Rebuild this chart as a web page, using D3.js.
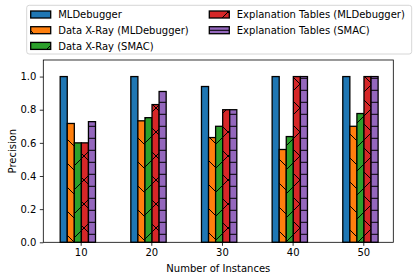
<!DOCTYPE html>
<html>
<head>
<meta charset="utf-8">
<script src="https://cdnjs.cloudflare.com/ajax/libs/d3/7.8.5/d3.min.js"></script>
<style>
  body { margin: 0; background: #fff; }
  svg text { font-family: "DejaVu Sans", sans-serif; font-size: 10px; fill: #000; }
</style>
</head>
<body>
<div class="chart"></div>
<script>
// data
var instances = [10, 20, 30, 40, 50];
var yTicks = [0.0, 0.2, 0.4, 0.6, 0.8, 1.0];

var seriesNames = ["MLDebugger", "Data X-Ray (MLDebugger)", "Data X-Ray (SMAC)",
                   "Explanation Tables (MLDebugger)", "Explanation Tables (SMAC)"];
var mlDebugger  = [1.0, 1.0, 0.94, 1.0, 1.0];
var xrayMld     = [0.717, 0.733, 0.632, 0.56, 0.70];
var xraySmac    = [0.60, 0.752, 0.70, 0.638, 0.777];
var etMld       = [0.60, 0.831, 0.80, 1.0, 1.0];
var etSmac      = [0.728, 0.91, 0.80, 1.0, 1.0];
var seriesValues = [mlDebugger, xrayMld, xraySmac, etMld, etSmac];

var colors  = ["#1f77b4", "#ff7f0e", "#2ca02c", "#d62728", "#9467bd"];
var hatches = [null, "back", "fwd", "cross", "horiz"];

var width = 417, height = 280;
var margin = {top: 60, right: 23.7, bottom: 37.7, left: 43.3};

var svg = d3.select(".chart").append("svg")
    .attr("width", width)
    .attr("height", height);

// hatch patterns
var defs = svg.append("defs");
function hatchPattern(id, size, d) {
  defs.append("pattern")
      .attr("id", id)
      .attr("patternUnits", "userSpaceOnUse")
      .attr("width", size)
      .attr("height", size)
    .append("path")
      .attr("d", d)
      .attr("stroke", "#000")
      .attr("stroke-width", 1)
      .attr("fill", "none");
}
hatchPattern("fwd", 24, "M-6,6L6,-6M0,24L24,0M18,30L30,18");
hatchPattern("back", 24, "M-6,18L6,30M0,0L24,24M18,-6L30,6");
hatchPattern("cross", 24, "M-6,6L6,-6M0,24L24,0M18,30L30,18M-6,18L6,30M0,0L24,24M18,-6L30,6");
hatchPattern("horiz", 12, "M0,6.3L12,6.3");

var x = d3.scaleLinear()
    .domain([4.71, 54.25])
    .range([margin.left, width - margin.right]);

var y = d3.scaleLinear()
    .domain([0, 1.1])
    .range([height - margin.bottom, margin.top]);

var barW = 1;
var barStart = -2.9;

var plot = svg.append("g").attr("class", "bars");

seriesValues.forEach(function(vals, i) {
  var g = plot.append("g").attr("class", "series-" + i);
  var rows = instances.map(function(n, j) { return {n: n, v: vals[j]}; });
  g.selectAll("rect.fill")
      .data(rows)
    .enter().append("rect")
      .attr("x", function(d) { return x(d.n + barStart + i * barW); })
      .attr("width", function(d) { return x(d.n + barStart + (i + 1) * barW) - x(d.n + barStart + i * barW); })
      .attr("y", function(d) { return y(d.v); })
      .attr("height", function(d) { return y(0) - y(d.v); })
      .attr("fill", colors[i]);
  if (hatches[i]) {
    g.selectAll("rect.hatch")
        .data(rows)
      .enter().append("rect")
        .attr("x", function(d) { return x(d.n + barStart + i * barW); })
        .attr("width", function(d) { return x(d.n + barStart + (i + 1) * barW) - x(d.n + barStart + i * barW); })
        .attr("y", function(d) { return y(d.v); })
        .attr("height", function(d) { return y(0) - y(d.v); })
        .attr("fill", "url(#" + hatches[i] + ")");
  }
  g.selectAll("rect.edge")
      .data(rows)
    .enter().append("rect")
      .attr("x", function(d) { return x(d.n + barStart + i * barW); })
      .attr("width", function(d) { return x(d.n + barStart + (i + 1) * barW) - x(d.n + barStart + i * barW); })
      .attr("y", function(d) { return y(d.v); })
      .attr("height", function(d) { return y(0) - y(d.v); })
      .attr("fill", "none")
      .attr("stroke", "#000")
      .attr("stroke-width", 1.3);
});

// axes
var xAxis = svg.append("g")
    .attr("transform", "translate(0," + (height - margin.bottom) + ")")
    .call(d3.axisBottom(x).tickValues(instances).tickSize(3.5).tickPadding(3.5).tickFormat(d3.format("d")));
var yAxis = svg.append("g")
    .attr("transform", "translate(" + margin.left + ",0)")
    .call(d3.axisLeft(y).tickValues(yTicks).tickSize(3.5).tickPadding(3.5).tickFormat(d3.format(".1f")));

[xAxis, yAxis].forEach(function(a) {
  a.selectAll("text").attr("font-family", "DejaVu Sans").attr("font-size", 10).attr("fill", "#000");
  a.selectAll("line").attr("stroke", "#000").attr("stroke-width", 0.8);
  a.select(".domain").remove();
});

// spines
svg.append("rect")
    .attr("x", margin.left)
    .attr("y", margin.top)
    .attr("width", width - margin.left - margin.right)
    .attr("height", height - margin.top - margin.bottom)
    .attr("fill", "none")
    .attr("stroke", "#000")
    .attr("stroke-width", 0.8);

svg.append("text")
    .attr("x", (margin.left + width - margin.right) / 2)
    .attr("y", 271.5)
    .attr("text-anchor", "middle")
    .text("Number of Instances");

svg.append("text")
    .attr("transform", "translate(15.5," + ((margin.top + height - margin.bottom) / 2) + ") rotate(-90)")
    .attr("text-anchor", "middle")
    .text("Precision");

// legend
var legend = svg.append("g").attr("class", "legend");
legend.append("rect")
    .attr("x", 26.7).attr("y", 5.3)
    .attr("width", 385).attr("height", 48.7)
    .attr("rx", 2.5)
    .attr("fill", "#fff").attr("fill-opacity", 0.8)
    .attr("stroke", "#cccccc").attr("stroke-width", 0.8);

var legendCols = [30.7, 209.3];
var legendRows = [14.5, 30.2, 45.9];
seriesNames.forEach(function(name, i) {
  var col = i < 3 ? 0 : 1;
  var row = i < 3 ? i : i - 3;
  var lx = legendCols[col], ly = legendRows[row];
  var item = legend.append("g");
  item.append("rect")
      .attr("x", lx).attr("y", ly - 3.5)
      .attr("width", 20).attr("height", 7)
      .attr("fill", colors[i]);
  if (hatches[i]) {
    item.append("rect")
        .attr("x", lx).attr("y", ly - 3.5)
        .attr("width", 20).attr("height", 7)
        .attr("fill", "url(#" + hatches[i] + ")");
  }
  item.append("rect")
      .attr("x", lx).attr("y", ly - 3.5)
      .attr("width", 20).attr("height", 7)
      .attr("fill", "none")
      .attr("stroke", "#000").attr("stroke-width", 1.3);
  item.append("text")
      .attr("x", lx + 27.5)
      .attr("y", ly + 3.6)
      .text(name);
});
</script>
</body>
</html>
